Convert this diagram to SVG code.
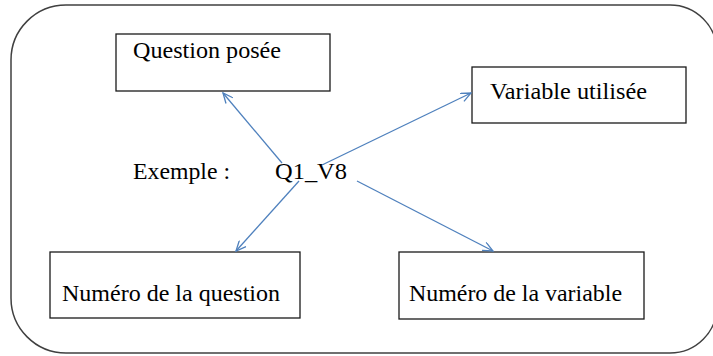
<svg xmlns="http://www.w3.org/2000/svg" width="713" height="356" viewBox="0 0 713 356">
<defs>
<style>
.box{fill:#fff;stroke:#1a1a1a;stroke-width:1.3}
.c{stroke:#4f81bd;stroke-width:1.3;fill:none}
</style>
<marker id="ah" viewBox="0 0 12 10" refX="11" refY="5" markerWidth="12" markerHeight="10" markerUnits="userSpaceOnUse" orient="auto">
<path d="M1,0.5 L11,5 L1,9.5" fill="none" stroke="#4f81bd" stroke-width="1.3"/>
</marker>
</defs>
<rect width="713" height="356" fill="#fff"/>
<path id="frame" d="M66 5 H670 A47 47 0 0 1 717 52 V306 A47 47 0 0 1 670 353 H66 A55 55 0 0 1 11 298 V60 A55 55 0 0 1 66 5 Z" fill="none" stroke="#404040" stroke-width="1.5"/>
<g font-family="Liberation Serif, DejaVu Serif, serif" font-size="24" fill="#000">
<g id="node-question-posee">
<rect class="box" x="116" y="34" width="214" height="57"/>
<text x="133" y="58" textLength="148" lengthAdjust="spacingAndGlyphs">Question posée</text>
</g>
<g id="node-variable-utilisee">
<rect class="box" x="472" y="67" width="214" height="56"/>
<text x="490" y="99" textLength="157" lengthAdjust="spacingAndGlyphs">Variable utilisée</text>
</g>
<g id="node-numero-question">
<rect class="box" x="50" y="252" width="250" height="66"/>
<text x="62" y="301" textLength="218" lengthAdjust="spacingAndGlyphs">Numéro de la question</text>
</g>
<g id="node-numero-variable">
<rect class="box" x="399" y="252" width="245" height="67"/>
<text x="409" y="301" textLength="213" lengthAdjust="spacingAndGlyphs">Numéro de la variable</text>
</g>
<g id="node-exemple">
<text x="133" y="179" textLength="97" lengthAdjust="spacingAndGlyphs">Exemple :</text>
<text x="275" y="179" textLength="72" lengthAdjust="spacingAndGlyphs">Q1_V8</text>
</g>
</g>
<g id="connectors">
<line class="c" x1="282" y1="163" x2="223" y2="93" marker-end="url(#ah)"/>
<line class="c" x1="322" y1="165" x2="471" y2="93" marker-end="url(#ah)"/>
<line class="c" x1="299" y1="181" x2="236" y2="251" marker-end="url(#ah)"/>
<line class="c" x1="357" y1="181" x2="493" y2="251" marker-end="url(#ah)"/>
</g>
</svg>
